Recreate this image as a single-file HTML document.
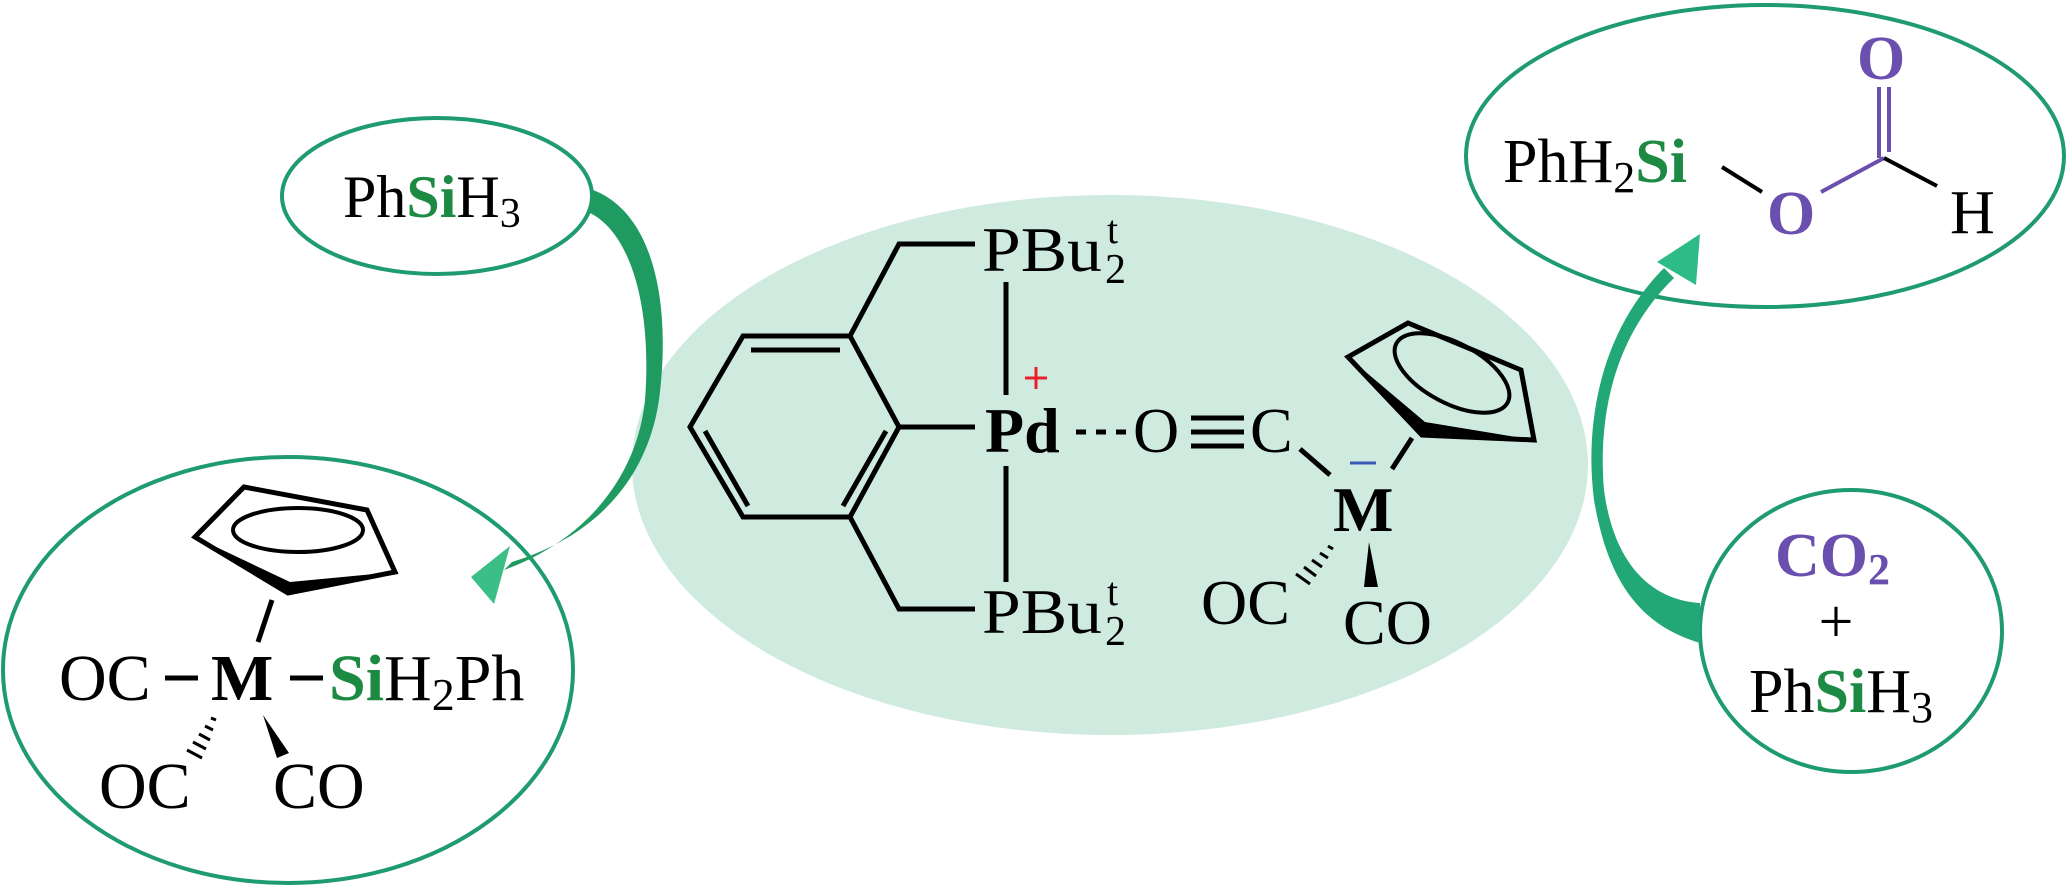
<!DOCTYPE html>
<html><head><meta charset="utf-8"><style>
html,body{margin:0;padding:0;background:#fff;}
svg{display:block;}
text{font-family:"Liberation Serif",serif;fill:#000;}
</style></head><body>
<svg width="2067" height="886" viewBox="0 0 2067 886" xmlns="http://www.w3.org/2000/svg">
<!-- central ellipse -->
<ellipse cx="1110" cy="465" rx="478" ry="270" fill="#cfeadf"/>
<!-- outline ellipses -->
<ellipse cx="437" cy="196" rx="155" ry="78" fill="none" stroke="#1f9b70" stroke-width="4"/>
<ellipse cx="288" cy="670" rx="285" ry="213" fill="none" stroke="#1f9b70" stroke-width="4"/>
<ellipse cx="1765" cy="156" rx="299" ry="151" fill="none" stroke="#1f9b70" stroke-width="4"/>
<ellipse cx="1851" cy="631" rx="151" ry="141" fill="none" stroke="#1f9b70" stroke-width="4"/>

<!-- left arrow -->
<path d="M593,190 C652,212 672,300 659,400 C648,475 600,535 512,562 L504,570 C592,538 638,470 645,400 C652,310 632,232 588,212 Z" fill="#1f9b62"/>
<polygon points="471,577 510,546 494,604" fill="#3cbf87"/>
<!-- right arrow -->
<path d="M1700,643 C1640,625 1608,582 1594,500 C1584,420 1602,330 1664,268 L1674,278 C1612,338 1598,420 1604,490 C1614,565 1652,600 1700,603 Z" fill="#22a876"/>
<polygon points="1700,234 1657,262 1696,285" fill="#2dbb88"/>

<!-- PhSiH3 top -->
<text x="343" y="217" font-size="60">Ph<tspan fill="#1d8a44" font-weight="bold">Si</tspan>H<tspan font-size="42" dy="10">3</tspan></text>

<!-- left complex -->
<g stroke="#000" stroke-width="5" fill="none" stroke-linejoin="miter">
<polygon points="244,487 367,510 395,572 288,593 195,537"/>
<ellipse cx="298" cy="530" rx="65" ry="22" stroke-width="4"/>
<line x1="272" y1="600" x2="258" y2="642"/>
<line x1="165" y1="678" x2="198" y2="678"/>
<line x1="290" y1="678" x2="323" y2="678"/>
</g>
<polygon points="195,537 288,593 395,572 290,582" fill="#000"/>
<text x="59" y="700" font-size="66">OC</text>
<text x="211" y="700" font-size="66" font-weight="bold">M</text>
<text x="329" y="700" font-size="66"><tspan fill="#1d8a44" font-weight="bold">Si</tspan>H<tspan font-size="46" dy="10">2</tspan><tspan dy="-10">Ph</tspan></text>
<g stroke="#000" stroke-width="3">
<line x1="211" y1="718" x2="216" y2="720"/>
<line x1="205" y1="726" x2="213" y2="730"/>
<line x1="199" y1="734" x2="210" y2="740"/>
<line x1="193" y1="742" x2="206" y2="749"/>
<line x1="187" y1="750" x2="202" y2="758"/>
</g>
<polygon points="263,715 277,758 289,753" fill="#000"/>
<text x="99" y="808" font-size="66">OC</text>
<text x="273" y="808" font-size="66">CO</text>

<!-- central molecule -->
<g stroke="#000" stroke-width="5" fill="none">
<polygon points="743,336 850,336 899,427 850,517 743,517 690,427"/>
<line x1="751" y1="350" x2="840" y2="350"/>
<line x1="886" y1="431" x2="843" y2="506"/>
<line x1="705" y1="431" x2="748" y2="506"/>
<polyline points="850,336 899,244 975,244"/>
<polyline points="850,517 899,609 975,609"/>
<line x1="899" y1="427" x2="975" y2="427"/>
<line x1="1006" y1="282" x2="1006" y2="395"/>
<line x1="1006" y1="466" x2="1006" y2="582"/>
<line x1="1076" y1="432" x2="1086" y2="432"/>
<line x1="1096" y1="432" x2="1106" y2="432"/>
<line x1="1116" y1="432" x2="1126" y2="432"/>
<line x1="1191" y1="418" x2="1244" y2="418"/>
<line x1="1191" y1="432" x2="1244" y2="432"/>
<line x1="1191" y1="446" x2="1244" y2="446"/>
<line x1="1300" y1="449" x2="1330" y2="475"/>
<line x1="1392" y1="469" x2="1412" y2="438"/>
<polygon points="1348,357 1408,323 1521,370 1534,440 1422,435"/>
<ellipse cx="1452" cy="373" rx="63" ry="30" transform="rotate(28 1452 373)" stroke-width="4"/>
</g>
<polygon points="1348,357 1422,435 1534,440 1425,422" fill="#000"/>
<text x="982" y="271" font-size="64" textLength="120" lengthAdjust="spacingAndGlyphs">PBu</text>
<text x="1105" y="283" font-size="42">2</text>
<text x="1107" y="243" font-size="40">t</text>
<text x="982" y="633" font-size="64" textLength="120" lengthAdjust="spacingAndGlyphs">PBu</text>
<text x="1105" y="645" font-size="42">2</text>
<text x="1107" y="605" font-size="40">t</text>
<text x="985" y="452" font-size="64" font-weight="bold">Pd</text>
<g stroke="#e8202a" stroke-width="3"><line x1="1025" y1="378" x2="1047" y2="378"/><line x1="1036" y1="367" x2="1036" y2="389"/></g>
<text x="1133" y="452" font-size="64">O</text>
<text x="1250" y="452" font-size="64">C</text>
<line x1="1350" y1="463" x2="1376" y2="463" stroke="#3a5bb5" stroke-width="3"/>
<text x="1333" y="531" font-size="64" font-weight="bold">M</text>
<g stroke="#000" stroke-width="3">
<line x1="1328" y1="546" x2="1333" y2="549"/>
<line x1="1320" y1="553" x2="1328" y2="558"/>
<line x1="1312" y1="560" x2="1322" y2="567"/>
<line x1="1304" y1="567" x2="1316" y2="576"/>
<line x1="1296" y1="574" x2="1310" y2="584"/>
</g>
<polygon points="1369,542 1364,587 1378,587" fill="#000"/>
<text x="1201" y="624" font-size="64">OC</text>
<text x="1343" y="644" font-size="64">CO</text>

<!-- product -->
<text x="1503" y="182" font-size="62">PhH<tspan font-size="44" dy="10">2</tspan><tspan dy="-10" fill="#1d8a44" font-weight="bold">Si</tspan></text>
<g stroke-width="4" fill="none">
<line x1="1722" y1="167" x2="1762" y2="192" stroke="#000"/>
<line x1="1821" y1="192" x2="1884" y2="158" stroke="#6a4fae"/>
<line x1="1879" y1="87" x2="1879" y2="158" stroke="#6a4fae"/>
<line x1="1889" y1="87" x2="1889" y2="152" stroke="#6a4fae"/>
<line x1="1884" y1="158" x2="1937" y2="186" stroke="#000"/>
</g>
<text x="1767" y="234" font-size="62" font-weight="bold" fill="#6a4fae" style="fill:#6a4fae">O</text>
<text x="1857" y="79" font-size="62" font-weight="bold" style="fill:#6a4fae">O</text>
<text x="1950" y="233" font-size="62">H</text>

<!-- CO2 + PhSiH3 -->
<text x="1775" y="576" font-size="62" font-weight="bold" style="fill:#6a4fae">CO<tspan font-size="44" dy="8">2</tspan></text>
<text x="1836" y="642" font-size="62" text-anchor="middle">+</text>
<text x="1749" y="712" font-size="62">Ph<tspan fill="#1d8a44" font-weight="bold">Si</tspan>H<tspan font-size="44" dy="10">3</tspan></text>
</svg>
</body></html>
